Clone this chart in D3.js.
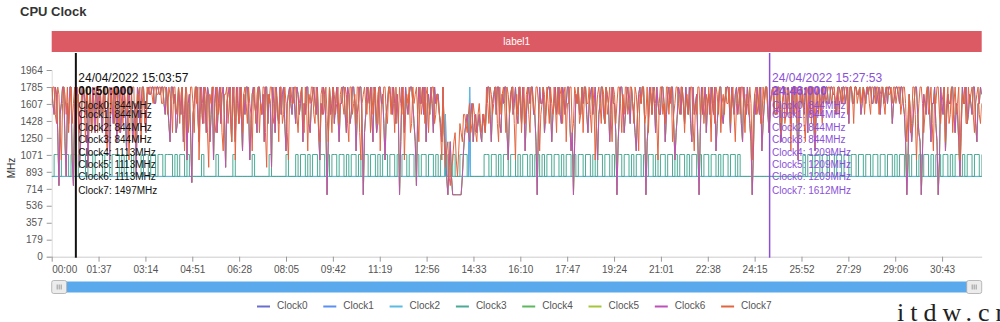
<!DOCTYPE html>
<html>
<head>
<meta charset="utf-8">
<script src="https://cdn.jsdelivr.net/npm/d3@7"></script>
<style>
	body { margin: 0; background: #fff; }
	svg { display: block; font-family: "Liberation Sans", Arial, sans-serif; }
</style>
</head>
<body>
<svg id="chart" width="1000" height="322"></svg>
<script>
const seriesNames = ["Clock0", "Clock1", "Clock2", "Clock3", "Clock4", "Clock5", "Clock6", "Clock7"];
const seriesColors = ["#6a6fcf", "#5b8ff0", "#5bbbe0", "#4aaa94", "#5cb85c", "#a5c63b", "#bf50b8", "#e3643f"];

// big/prime cores sampled every 2.5 s, Clock3 every 5 s (00:00 -> 32:05)
const coreStep = 2.5;
const clock3Step = 5;

// Clock7 (prime core)
const primeCoreMHz = [
	1612,1785,1785,1497,1401,1785,1708,1305,1017,1612,1785,1708,1497,1785,1305,1612,1785,1401,1612,1785,940,1612,1708,1305,1497,1785,1785,1612,1209,1785,1612,1497,1785,1305,1401,1785,1708,1612,1305,1785,
	1785,1612,1497,1785,1612,1305,1113,1708,1785,1497,1708,1785,1401,1612,1785,1497,1305,1785,1612,1401,1785,1612,1497,1785,1017,1497,1708,1785,1785,1209,1401,1708,1612,1785,1209,1612,1785,1401,1497,1785,
	1708,1785,1785,1708,1612,1785,1785,1708,1708,1785,1785,1612,1612,1785,1785,1708,1497,1785,1708,1612,1305,1785,1785,1497,1612,1785,1401,1708,1785,1497,1113,1785,1708,1305,1497,1785,1785,1612,1305,1785,
	1612,1785,1017,1497,1785,1612,1401,1785,1708,1305,940,1708,1612,1785,1785,1401,1305,1785,1497,1612,1785,1305,1113,1708,1708,1785,1401,1612,1785,1209,1612,1785,1017,1612,1785,1401,1497,1785,1305,1708,
	1785,1612,1401,1785,1612,1497,1113,1708,1785,1401,1708,1785,1305,1612,1497,1785,1785,1305,940,1708,1612,1785,1785,1497,1401,1785,1708,1612,1209,1785,1785,1401,1497,1785,1612,1305,1017,1708,1785,1612,
	1612,1785,1785,1497,1305,1612,1708,1785,1497,1305,1785,1612,1113,1708,1612,1785,1785,1497,1401,1785,1708,1401,1209,1708,1785,1497,1612,1785,1497,1209,1785,1612,1305,1785,1708,1497,1612,1785,1401,1708,
	1785,1612,1497,1785,1708,1401,1209,1785,1785,1497,1612,1708,1401,1785,1785,1305,1017,1612,1708,1785,1612,1497,1785,1612,1305,1785,1497,1708,1785,1401,1708,1785,1113,1612,1612,1785,1785,1497,1401,1785,
	1708,1497,1785,1612,1305,1785,1612,1401,1785,1612,1497,1785,1017,1497,1708,1612,1785,1305,1401,1785,1612,1708,1785,1497,1209,1785,1497,1612,1785,1401,1708,1785,1305,1612,1612,1785,1785,1401,1497,1708,
	1612,1497,1305,1017,1785,1209,940,1113,1209,844,748,940,1017,1209,1305,1017,844,1113,1401,1305,1209,1497,1497,1401,1305,1497,1612,1305,1401,1612,1497,1305,1209,1497,1612,1401,1305,1497,1497,1305,
	1785,1612,1401,1785,1708,1497,1612,1785,1785,1401,1209,1785,1497,1708,1785,1612,1305,1785,1708,1497,1612,1785,1785,1401,1017,1708,1497,1785,1785,1305,1612,1785,1401,1708,1785,1497,1305,1785,1708,1612,
	1497,1785,1785,1612,1113,1497,1612,1785,1708,1401,1785,1612,1401,1785,1612,1497,1785,1612,1305,1785,1497,1708,1785,1401,1708,1785,1209,1612,1612,1785,1785,1305,1401,1785,1708,1612,1785,1401,1497,1785,
	1305,1708,1785,1612,1612,1785,1497,1305,1785,1612,1017,1497,1708,1785,1612,1401,1785,1708,1401,1785,1497,1612,1785,1497,1209,1785,1708,1401,1612,1785,1785,1612,1305,1708,1497,1785,1785,1497,1612,1785,
	1785,1612,1401,1785,1708,1497,1113,1708,1612,1785,1785,1401,1497,1785,1305,1612,1785,1497,1708,1785,1612,1401,1017,1612,1785,1785,1497,1612,1401,1785,1785,1497,1708,1785,1209,1497,1612,1785,1785,1612,
	1497,1785,1785,1612,1305,1612,1708,1497,1612,1785,1785,1401,1113,1612,1497,1785,1785,1497,1612,1785,1401,1612,1708,1497,1785,1612,1209,1785,1612,1401,1785,1708,1497,1785,1305,1612,1708,1497,1785,1612,
	1612,1785,1401,1708,1785,1497,1209,1612,1708,1785,1497,1785,1785,1612,1305,1708,1612,1497,1785,1612,1017,1497,1708,1785,1497,1612,1785,1401,1401,1785,1612,1785,1785,1612,1305,1612,1708,1785,1497,1785,
	1785,1497,1612,1785,1305,1612,1785,1401,1497,1785,1708,1612,1113,1708,1785,1497,1612,1785,1401,1708,1785,1612,1708,1401,1209,1785,1497,1612,1785,1401,1612,1785,1305,1708,1785,1497,1708,1612,1401,1785,
	1785,1612,1708,1785,1785,1708,1612,1785,1785,1497,1708,1785,1497,1708,1785,1612,1708,1785,1785,1497,1612,1785,1785,1708,1401,1785,1785,1612,1708,1785,1612,1708,1785,1497,1708,1785,1785,1612,1497,1785,
	1785,1708,1612,1785,1785,1497,1708,1785,1785,1612,1497,1785,1785,1708,1708,1785,1612,1785,1785,1612,1708,1785,1785,1497,1612,1785,1785,1612,1209,1497,1708,1305,1401,1785,1785,1497,1017,1401,1612,1785,
	1785,1612,1305,1497,1708,1785,1497,1612,1785,1401,1113,1708,1612,1785,1785,1497,1401,1612,1708,1785,1209,1612,1785,1401,1497,1785,1305,1612,1785,1497,1612,1785,1017,1497,1708,1612,1785,1401,1401,1785,
	1612,1708,1785,1497,1305,1612,1708,1785,1497,1401,1612
];

// Clock4 - Clock6 (big core cluster)
const bigCoreMHz = [
	1785,1612,1497,1785,1708,1305,748,1497,1612,1785,1785,1209,844,1612,1401,1785,1785,1017,748,1612,1708,1785,1612,940,1209,1612,1785,1708,1497,1785,940,1497,1708,1305,1785,1612,1305,1785,1612,1497,
	1708,1497,1305,1785,1785,1209,1497,1708,1017,1785,1612,1401,1785,1612,1209,1785,1708,1305,1497,1785,1785,1497,1113,1708,1612,1785,1785,1209,1401,1612,844,1785,1708,1401,1612,1785,1785,1497,1305,1708,
	1785,1708,1708,1785,1785,1612,1612,1785,1785,1708,1708,1785,1785,1612,1497,1785,1612,1401,1209,1785,1785,1612,1708,1305,1401,1785,1612,1497,1785,1209,1497,1785,1017,1612,1708,1305,780,1497,1612,1785,
	1785,1497,1209,1785,1612,1401,1785,1612,1305,1785,1708,1209,1497,1785,1017,1612,1785,1305,1612,1785,1401,1708,1785,1497,940,1612,1708,1785,1497,1209,1785,1612,1209,1785,1612,1401,1785,1497,1113,1708,
	1497,1785,1785,1612,1017,1401,1708,1785,1612,1497,1305,1785,1785,1612,1497,1708,1209,1785,1785,1401,1708,1612,940,1785,1612,1305,1785,1497,1401,1785,1497,1708,1785,1401,1113,1612,1708,1785,1612,1497,
	1785,1612,1401,1785,1708,1497,1612,1785,1209,1612,1497,1785,1785,1401,1305,1612,1708,1785,1612,1497,1785,1305,1017,1612,1497,1785,1708,1401,652,1209,1785,1497,1612,1785,1401,1612,1785,1497,1209,1612,
	1612,1785,1785,1497,1305,1785,1708,1401,1497,1785,1785,1612,1113,1497,1612,1785,1785,1401,652,1305,1497,1785,1708,1612,1785,1497,1209,1785,1612,1305,1401,1785,1785,1612,1708,1401,1017,1497,1612,1785,
	1785,1612,1497,1785,1612,1401,1708,1497,652,1209,1785,1612,1305,1785,1612,1497,1708,1785,1785,1612,1401,1209,748,1497,1785,1612,1612,1785,1497,1785,1209,1612,1708,1497,1785,1612,1305,1785,1612,1708,
	1708,1497,1401,1209,1785,1305,1113,844,652,940,1209,844,652,652,652,652,652,652,652,652,844,1113,1305,1401,1497,1305,1209,1497,1612,1209,1401,1497,1305,1401,1497,1305,1209,1497,1401,1305,
	1612,1785,1785,1497,1209,1612,1708,1785,1497,1785,1785,1401,1305,1708,1612,1785,1785,1305,1017,1497,1708,1785,1497,1612,1785,1497,1401,1785,1612,1401,1785,1612,1113,1497,1708,1785,1612,1785,1785,1497,
	1497,1209,652,1401,1785,1612,1612,1785,1305,1497,1708,1785,1785,1612,1209,1497,1612,1785,1497,1612,1785,1497,1401,1785,1708,1497,1612,1785,1785,1401,1113,1305,652,1209,1708,1612,1785,1497,1497,1785,
	1612,1785,1785,1497,1305,1612,1708,1785,1497,1612,1785,1401,1017,1497,1612,1785,1785,1497,1401,1785,1708,1612,1209,1497,1785,1612,1612,1305,652,1209,1497,1785,1785,1612,1305,1497,1708,1785,1612,1401,
	1785,1612,1497,1305,1113,1497,1708,1785,1612,1785,1785,1401,652,1209,1401,1785,1708,1497,1785,1612,1305,1785,1612,1497,1497,1785,1785,1612,1209,1497,1708,1785,1612,1785,1785,1401,1017,1305,1497,1785,
	1708,1497,1785,1612,1401,1785,1612,1497,1785,1401,1209,1785,1497,1612,1708,1209,652,1305,1785,1497,1612,1785,1305,1612,1708,1497,1785,1612,1497,1785,1113,1401,1612,1785,1785,1497,1401,1612,1708,1785,
	1785,1612,1305,1785,1612,1497,1708,1785,1497,1612,1785,1401,1209,1785,1612,1497,1785,1612,1401,1209,652,1113,1708,1497,1785,1612,1497,1785,1113,1401,1612,1785,1785,1497,1305,1612,1708,1785,1612,1497,
	1497,1785,1785,1401,1209,1612,1708,1785,1612,1497,1785,1612,1401,1785,1497,1785,1785,1401,1017,1497,1708,1785,1612,1497,1785,1612,1305,1785,1497,1785,1785,1401,1113,1497,1708,1785,1612,1497,1785,1612,
	1708,1785,1785,1612,1612,1785,1785,1708,1708,1612,1497,1785,1785,1708,1612,1785,1785,1612,1708,1785,1401,1785,1785,1612,1612,1785,1785,1708,1708,1785,1497,1612,1785,1708,1612,1785,1708,1785,1785,1612,
	1612,1785,1785,1612,1708,1785,1497,1708,1785,1612,1708,1785,1612,1785,1785,1708,1401,1612,1708,1785,1785,1708,1612,1785,1785,1612,1497,1209,652,1017,1708,1497,1209,1401,1612,1785,1785,1497,1305,1209,
	652,1113,1708,1612,1497,1785,1785,1497,1209,1612,1612,1785,1401,1209,652,1017,1785,1612,1497,1785,1113,1497,1708,1612,1612,1785,1785,1497,1305,1612,1497,1209,844,1305,1785,1612,1612,1785,1401,1497,
	1708,1612,1497,1785,1785,1401,1209,1612,1612,1785,1708
];

// Clock3
const clock3MHz = [
	844,1075,1075,844,1075,1075,1075,844,1075,1075,844,1075,1075,1075,844,1075,1075,844,1075,1075,
	1075,844,1075,1075,844,1075,1075,1075,844,1075,844,1075,1075,844,1075,1075,1075,844,1075,1075,
	844,1075,1075,844,1075,1075,844,1075,1075,1075,844,1075,844,1075,1075,844,1075,844,844,844,
	844,844,1075,844,844,844,844,844,1075,844,844,844,844,844,844,1075,844,844,844,844,
	844,844,844,1075,844,844,844,844,844,844,1075,844,844,844,844,844,844,1075,844,844,
	844,1075,844,1075,1075,844,1075,844,1075,1075,844,1075,1075,844,1075,844,1075,1075,844,1075,
	1075,844,1075,844,1075,1075,844,1075,844,1075,1075,844,1075,1075,844,1075,844,1075,1075,844,
	1075,1075,844,1075,844,1075,1075,844,1075,1075,844,1075,844,1075,1075,844,1075,1075,844,1075,
	844,1075,1075,844,1075,844,1075,844,844,1075,1075,1075,844,844,844,844,844,844,844,1075,
	1075,844,1075,1075,844,1075,844,1075,1075,844,1075,1075,844,1075,844,1075,1075,844,1075,844,
	1075,1075,844,1075,844,1075,1075,844,1075,1075,844,1075,844,1075,1075,844,1075,844,1075,1075,
	844,1075,1075,844,1075,844,1075,1075,844,1075,1075,844,1075,844,1075,1075,844,1075,1075,844,
	1075,844,1075,1075,844,1075,844,1075,1075,844,1075,844,1075,1075,844,1075,1075,844,1075,844,
	1075,1075,844,1075,844,1075,1075,844,1075,844,1075,1075,844,1075,1075,844,1075,844,1075,1075,
	844,1075,1075,844,1075,844,844,844,844,844,844,844,844,844,844,844,844,844,844,844,
	844,844,844,844,844,844,844,844,844,844,844,1075,844,1075,1075,844,1075,1075,844,1075,
	1075,844,1075,1075,844,1075,1075,844,1075,1075,844,1075,1075,844,1075,1075,844,1075,1075,844,
	1075,1075,844,1075,1075,844,1075,1075,844,1075,844,1075,1075,844,1075,844,1075,1075,844,1075,
	844,1075,1075,844,1075,844,1075,1075,844,1075,1075,844,1075,844,1075,1075,844,1075,844,1075,
	1075,844,1075,1075,844,1075
];

// Clock0 - Clock2 (little cores) as [second, MHz] points
const littleCorePoints = [[0, 844], [813, 844], [815, 1497], [817, 844], [863, 844], [865, 1785], [867, 844], [1925, 844]];

const xTickSeconds = [0, 97, 194, 291, 388, 485, 582, 679, 776, 873, 970, 1067, 1164, 1261, 1358, 1455, 1552, 1649, 1746, 1843];
const yTickValues = [0, 179, 357, 536, 714, 893, 1071, 1250, 1428, 1607, 1785, 1964];

const leftCursorValues = [844, 844, 844, 844, 1113, 1113, 1113, 1497];
const rightCursorValues = [844, 844, 844, 844, 1209, 1209, 1209, 1612];
const cursors = [
	{ second: 50, date: "24/04/2022 15:03:57", elapsed: "00:50:000", values: leftCursorValues, color: "#111", width: 2 },
	{ second: 1486, date: "24/04/2022 15:27:53", elapsed: "24:46:000", values: rightCursorValues, color: "#8a4fd8", width: 1.5 }
];

const svg = d3.select("#chart");
const plot = { left: 51.7, right: 981.7, top: 70, bottom: 256.7 };

const x = d3.scaleLinear().domain([0, 1925]).range([plot.left, plot.right]);
const y = d3.scaleLinear().domain([0, 1964]).range([plot.bottom, plot.top]);

function fmtTime(s) {
	return d3.format("02d")(Math.floor(s / 60)) + ":" + d3.format("02d")(s % 60);
}

function drawHeader() {
	svg.append("text")
		.attr("x", 20).attr("y", 16)
		.attr("font-size", 13).attr("font-weight", "bold").attr("fill", "#333")
		.text("CPU Clock");
	svg.append("rect")
		.attr("x", plot.left).attr("y", 31)
		.attr("width", plot.right - plot.left).attr("height", 21)
		.attr("fill", "#dc5a64");
	svg.append("text")
		.attr("x", (plot.left + plot.right) / 2).attr("y", 42)
		.attr("text-anchor", "middle").attr("dominant-baseline", "middle")
		.attr("font-size", 10).attr("fill", "#fff")
		.text("label1");
}

function drawAxes() {
	const yAxis = svg.append("g")
		.attr("transform", `translate(${plot.left},0)`)
		.call(d3.axisLeft(y).tickValues(yTickValues).tickFormat(d => d).tickSize(5).tickPadding(4));
	yAxis.select(".domain").attr("stroke", "#ddd");
	yAxis.selectAll(".tick line").attr("stroke", "#999");
	yAxis.selectAll("text").attr("font-size", 10).attr("fill", "#555").attr("font-family", null);

	const xAxis = svg.append("g")
		.attr("transform", `translate(0,${plot.bottom})`)
		.call(d3.axisBottom(x).tickValues(xTickSeconds).tickFormat(fmtTime).tickSize(5).tickPadding(4).tickSizeOuter(0));
	xAxis.select(".domain").attr("stroke", "#ccc");
	xAxis.selectAll(".tick line").attr("stroke", "#999");
	xAxis.selectAll("text").attr("font-size", 10).attr("fill", "#555").attr("font-family", null);
	xAxis.selectAll(".tick text").filter(d => d === 0).attr("text-anchor", "start");

	svg.append("text")
		.attr("transform", "translate(15,168) rotate(-90)")
		.attr("text-anchor", "middle")
		.attr("font-size", 10).attr("fill", "#333")
		.text("MHz");
}

function drawSeries() {
	svg.append("clipPath").attr("id", "plot-clip")
		.append("rect")
		.attr("x", plot.left).attr("y", plot.top - 20)
		.attr("width", plot.right - plot.left).attr("height", plot.bottom - plot.top + 20);

	const g = svg.append("g").attr("clip-path", "url(#plot-clip)");
	const coreLine = d3.line()
		.x((_, i) => x(i * coreStep))
		.y(d => y(d));
	const toggleLine = d3.line()
		.x((_, i) => x(i * clock3Step))
		.y(d => y(d))
		.curve(d3.curveStepAfter);
	const pointLine = d3.line()
		.x(d => x(d[0]))
		.y(d => y(d[1]));

	const seriesPaths = [
		pointLine(littleCorePoints),
		pointLine(littleCorePoints),
		pointLine(littleCorePoints),
		toggleLine(clock3MHz),
		coreLine(bigCoreMHz),
		coreLine(bigCoreMHz),
		coreLine(bigCoreMHz),
		coreLine(primeCoreMHz)
	];

	g.selectAll("path.series")
		.data(seriesPaths)
		.enter()
		.append("path")
		.attr("class", "series")
		.attr("d", d => d)
		.attr("fill", "none")
		.attr("stroke", (_, i) => seriesColors[i])
		.attr("stroke-width", 1);
}

function drawCursors() {
	const lineY = [106.7, 115, 128.3, 140, 153.3, 165, 177.7, 191];
	cursors.forEach(c => {
		const cx = x(c.second);
		svg.append("line")
			.attr("x1", cx).attr("x2", cx)
			.attr("y1", 53).attr("y2", plot.bottom + 1)
			.attr("stroke", c.color).attr("stroke-width", c.width);
		const tg = svg.append("g").attr("fill", c.color);
		tg.append("text")
			.attr("x", cx + 2.5).attr("y", 79)
			.attr("dominant-baseline", "middle").attr("font-size", 12)
			.text(c.date);
		tg.append("text")
			.attr("x", cx + 2.5).attr("y", 92)
			.attr("dominant-baseline", "middle").attr("font-size", 12)
			.attr("font-weight", "bold")
			.text(c.elapsed);
		tg.selectAll("text.val")
			.data(c.values)
			.enter()
			.append("text")
			.attr("class", "val")
			.attr("x", cx + 2.5)
			.attr("y", (_, i) => lineY[i])
			.attr("dominant-baseline", "middle").attr("font-size", 10)
			.text((d, i) => `${seriesNames[i]}: ${d}MHz`);
	});
}

function drawSlider() {
	svg.append("rect")
		.attr("x", plot.left + 1).attr("y", 281.5)
		.attr("width", plot.right - plot.left - 2).attr("height", 11)
		.attr("fill", "#5aa9ec");
	[plot.left, plot.right - 15].forEach(hx => {
		const h = svg.append("g");
		h.append("rect")
			.attr("x", hx).attr("y", 280.5)
			.attr("width", 15).attr("height", 13).attr("rx", 2)
			.attr("fill", "#ececec").attr("stroke", "#aaa").attr("stroke-width", 0.8);
		[-2, 0, 2].forEach(dx => {
			h.append("line")
				.attr("x1", hx + 7.5 + dx).attr("x2", hx + 7.5 + dx)
				.attr("y1", 284.5).attr("y2", 289.5)
				.attr("stroke", "#888").attr("stroke-width", 0.8);
		});
	});
}

function drawLegend() {
	const legend = svg.append("g").attr("class", "legend");
	const items = legend.selectAll("g")
		.data(seriesNames)
		.enter()
		.append("g")
		.attr("transform", (_, i) => `translate(${257 + i * 66.3},306.5)`);
	items.append("line")
		.attr("x1", 0).attr("x2", 13)
		.attr("stroke", (_, i) => seriesColors[i]).attr("stroke-width", 2);
	items.append("text")
		.attr("x", 20).attr("dominant-baseline", "middle")
		.attr("font-size", 10).attr("fill", "#555")
		.text(d => d);
}

drawHeader();
drawAxes();
drawSeries();
drawCursors();
drawSlider();
drawLegend();

svg.append("text")
	.attr("x", 897).attr("y", 321)
	.attr("font-family", "Liberation Serif, serif")
	.attr("font-size", 26).attr("letter-spacing", 6).attr("fill", "#222")
	.text("itdw.cn");
</script>
</body>
</html>
